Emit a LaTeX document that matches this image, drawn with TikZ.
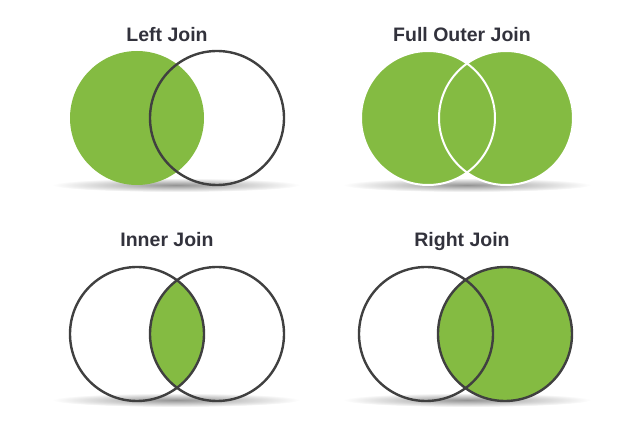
\documentclass[tikz,border=0pt]{standalone}
\usepackage{fontspec}
\setmainfont{Liberation Sans}
\usepackage{tikz}

\definecolor{joingreen}{RGB}{132,187,66}
\definecolor{ringgray}{RGB}{64,64,64}
\definecolor{titlegray}{RGB}{50,50,60}

\tikzset{
  title/.style={anchor=base,text=titlegray,font=\fontsize{19.5}{22}\selectfont\bfseries,inner sep=0pt},
  ring/.style={draw=ringgray,line width=2.4pt},
  floor/.style={inner color=black!42,outer color=white}
}

\begin{document}
\begin{tikzpicture}[x=1pt,y=1pt]
    \useasboundingbox (0,0) rectangle (627,426);

    % shadows under each pair
    \shade[floor] (176,241) ellipse (124 and 7);
    \shade[floor] (467,241) ellipse (124 and 7);
    \shade[floor] (176,26) ellipse (124 and 7);
    \shade[floor] (467,26) ellipse (124 and 7);

    % left join
    \node[title] (left) at (167,384) {Left Join};
    \fill[joingreen] (137,308) circle (67);
    \draw[ring] (217,308) circle (67);

    % full outer join
    \node[title] (full) at (462,384) {Full Outer Join};
    \fill[joingreen] (428,308) circle (67);
    \fill[joingreen] (506,308) circle (67);
    \draw[white,line width=2pt] (428,308) circle (67);
    \draw[white,line width=2pt] (506,308) circle (67);

    % inner join
    \node[title] (inner) at (167,179) {Inner Join};
    \begin{scope}
      \clip (137,92) circle (67);
      \fill[joingreen] (217,92) circle (67);
    \end{scope}
    \draw[ring] (137,92) circle (67);
    \draw[ring] (217,92) circle (67);

    % right join
    \node[title] (right) at (462,179) {Right Join};
    \fill[joingreen] (505,92) circle (67);
    \draw[ring] (426,92) circle (67);
    \draw[ring] (505,92) circle (67);
  \end{tikzpicture}
\end{document}
